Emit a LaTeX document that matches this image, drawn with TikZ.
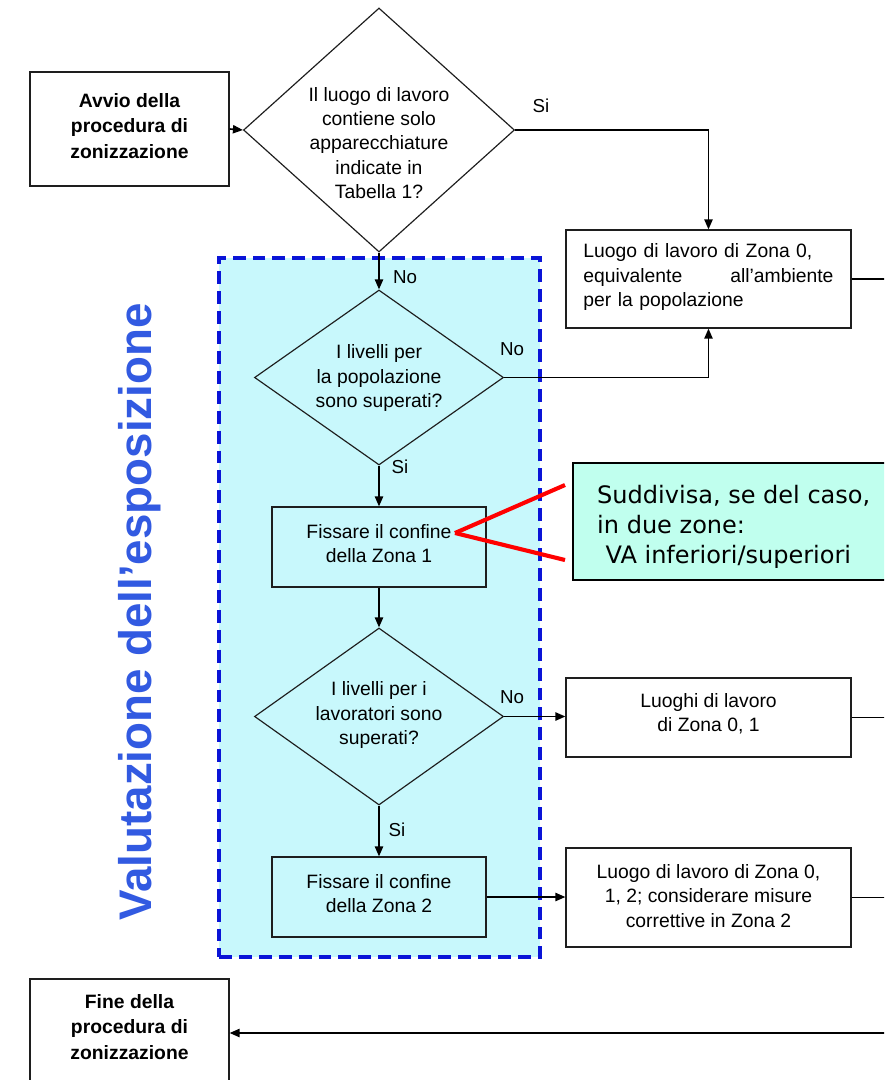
\documentclass[tikz,border=0pt]{standalone}
\usepackage{fontspec}
\setmainfont{Liberation Sans}
\newfontfamily\callfont{DejaVu Sans}
\usetikzlibrary{shapes.geometric,arrows.meta}
\definecolor{boxcyan}{RGB}{200,248,252}
\definecolor{callcyan}{RGB}{192,255,238}
\definecolor{dashblue}{RGB}{10,20,215}
\definecolor{titleblue}{RGB}{50,90,225}
\definecolor{linegray}{RGB}{30,30,30}
\begin{document}
\begin{tikzpicture}[x=0.03cm,y=-0.03cm,
  box/.style={draw=linegray, line width=1pt, inner sep=0pt},
  dia/.style={draw=linegray, line width=1pt, diamond, inner sep=0pt, aspect=1},
  txt/.style={font=\fontsize{16.5}{20.7}\selectfont, align=center, inner sep=0pt},
  btxt/.style={font=\fontsize{16.5}{22}\selectfont\bfseries, align=center, inner sep=0pt},
  lab/.style={font=\fontsize{16}{18}\selectfont, inner sep=0pt},
  conn/.style={line width=1.4pt, draw=black},
  arr/.style={conn, -{Triangle[length=8.5pt,width=7pt]}},
  redline/.style={draw=red, line width=3.5pt},
]
\useasboundingbox (0,0) rectangle (884,1080);
\clip (0,0) rectangle (884,1080);
\fill[white] (0,0) rectangle (884,1080);

% exposure zone
\node[draw=dashblue, fill=boxcyan, dash pattern=on 11pt off 6pt, line width=3pt,
      minimum width=9.63cm, minimum height=20.97cm, inner sep=0pt] (zone) at (379.5,607.5) {};
\node[rotate=90, font=\fontsize{39}{40}\selectfont\bfseries, text=titleblue] (title) at (140,612) {Valutazione dell’esposizione};

% nodes
\node[box, minimum width=5.97cm, minimum height=3.42cm] (start) at (129.5,129) {};
\node[btxt] at (129.5,126) {Avvio della\\procedura di\\zonizzazione};

\node[dia, minimum width=8.13cm, minimum height=7.32cm] (d1) at (379,130) {};
\node[txt] at (379,143) {Il luogo di lavoro\\contiene solo\\apparecchiature\\indicate in\\Tabella 1?};

\node[box, minimum width=8.55cm, minimum height=2.94cm] (z0) at (708.5,279) {};
\node[txt, align=left, text width=7.5cm] at (708.5,277) {Luogo di lavoro di Zona 0,\\equivalente\hfill all’ambiente\\per la popolazione};

\node[dia, minimum width=7.47cm, minimum height=5.25cm] (d2) at (379,377.5) {};
\node[txt] at (379,378) {I livelli per\\la popolazione\\sono superati?};

\node[box, minimum width=6.42cm, minimum height=2.4cm] (f1) at (379,547) {};
\node[txt] at (379,543.5) {Fissare il confine\\della Zona 1};

\node[dia, minimum width=7.47cm, minimum height=5.31cm] (d3) at (379,716.5) {};
\node[txt] at (379,715) {I livelli per i\\lavoratori sono\\superati?};

\node[box, minimum width=8.55cm, minimum height=2.37cm] (z01) at (708.5,717.5) {};
\node[txt] at (708.5,714) {Luoghi di lavoro\\di Zona 0, 1};

\node[box, minimum width=6.42cm, minimum height=2.4cm] (f2) at (379,897) {};
\node[txt] at (379,893.5) {Fissare il confine\\della Zona 2};

\node[box, minimum width=8.55cm, minimum height=2.97cm] (z012) at (708.5,897.5) {};
\node[txt] at (708.5,896) {Luogo di lavoro di Zona 0,\\1, 2; considerare misure\\correttive in Zona 2};

\node[box, minimum width=5.97cm, minimum height=3.33cm] (endbox) at (129.5,1034.5) {};
\node[btxt] at (129.5,1027) {Fine della\\procedura di\\zonizzazione};

% callout
\node[draw=black, line width=1.1pt, fill=callcyan, minimum width=9.51cm, minimum height=3.51cm, inner sep=0pt] (callout) at (731.5,521.5) {};
\node[font=\callfont\fontsize{20.5}{25.6}\selectfont, align=left, anchor=west, inner sep=0pt] at (597,527) {Suddivisa, se del caso,\\in due zone:\\\hspace{0.35em}VA inferiori/superiori};
\coordinate (rp) at (455,533);
\coordinate (ru) at (565,485);
\coordinate (rl) at (565,560);
\draw[redline] (ru) -- (rp);
\draw[redline] (rl) -- (rp);

% connectors
\draw[arr] (start.east) -- (d1.west);
\draw[arr] (d1.east) -| (z0.north);
\draw[arr] (d1.south) -- (d2.north);
\draw[arr] (d2.east) -| (z0.south);
\draw[arr] (d2.south) -- (f1.north);
\draw[arr] (f1.south) -- (d3.north);
\draw[arr] (d3.east) -- (d3.east -| z01.west);
\draw[arr] (d3.south) -- (f2.north);
\draw[arr] (f2.east) -- (f2.east -| z012.west);
\coordinate (redge) at (892,0);
\coordinate (rb) at (892,1033);
\draw[conn] (z0.east) -- (z0.east -| redge);
\draw[conn] (z01.east) -- (z01.east -| redge);
\draw[conn] (z012.east) -- (z012.east -| redge);
\draw[arr] (rb) -- (rb -| endbox.east);

% labels
\node[lab] (l1) at (541,106) {Si};
\node[lab] (l2) at (405,277) {No};
\node[lab] (l3) at (512,349) {No};
\node[lab] (l4) at (400,467) {Si};
\node[lab] (l5) at (512,697) {No};
\node[lab] (l6) at (397,830) {Si};
\end{tikzpicture}
\end{document}
